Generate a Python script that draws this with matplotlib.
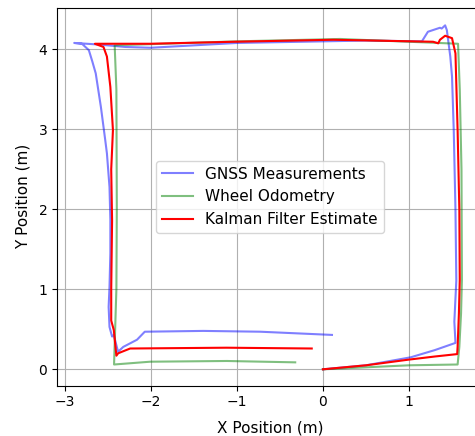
import numpy as np
import matplotlib.pyplot as plt

# GNSS measurements (x, y)
gnss_x = [0.0, 0.5, 1.02, 1.3, 1.54, 1.527, 1.55, 1.54, 1.52, 1.50, 1.48, 1.46, 1.44, 1.42,
          1.38, 1.36, 1.22, 1.15, 0.5, -1.0, -2.0, -2.3, -2.6, -2.89,
          -2.80, -2.72, -2.68, -2.64, -2.58, -2.53, -2.51, -2.48, -2.47, -2.47, -2.48, -2.49,
          -2.48, -2.45, -2.43, -2.395, -2.38, -2.32, -2.16, -2.07, -1.39, -0.73, 0.105]
gnss_y = [0.0, 0.05, 0.15, 0.24, 0.33, 0.595, 1.11, 2.0, 2.99, 3.66, 3.91, 4.075, 4.24, 4.30,
          4.26, 4.27, 4.22, 4.10, 4.11, 4.08, 4.02, 4.03, 4.06, 4.08,
          4.07, 3.99, 3.85, 3.70, 3.28, 2.87, 2.7, 2.28, 1.87, 1.45, 1.03, 0.78,
          0.53, 0.41, 0.43, 0.28, 0.22, 0.28, 0.37, 0.47, 0.48, 0.47, 0.43]

# wheel odometry (x, y)
odom_x = [0.0, 1.0, 1.565, 1.585, 1.605, 1.615, 1.61, 1.59, 1.57, 0.2, -1.0, -2.42,
          -2.40, -2.395, -2.40, -2.427, -2.008, -1.116, -0.322]
odom_y = [0.0, 0.05, 0.06, 0.28, 0.70, 1.12, 2.5, 3.5, 4.07, 4.13, 4.10, 4.05,
          3.5, 2.0, 1.0, 0.06, 0.095, 0.104, 0.087]

# kalman filter estimate (x, y)
kf_x = [0.0, 0.5, 0.99, 1.3, 1.56, 1.565, 1.58, 1.59, 1.585, 1.565, 1.54, 1.50, 1.42,
        1.36, 1.34, 1.28, 0.12, -1.04, -2.0, -2.65, -2.55, -2.51, -2.47, -2.44,
        -2.46, -2.45, -2.46, -2.46, -2.43, -2.40, -2.38, -2.24, -1.12, -0.13]
kf_y = [0.0, 0.05, 0.12, 0.16, 0.19, 0.28, 0.70, 1.12, 2.0, 2.99, 3.95, 4.14, 4.17,
        4.12, 4.075, 4.095, 4.12, 4.095, 4.07, 4.07, 4.03, 3.91, 3.53, 2.99,
        2.5, 1.86, 1.0, 0.61, 0.49, 0.17, 0.2, 0.26, 0.27, 0.26]

fig = plt.figure(figsize=(4.75, 4.36), dpi=100)
# axes runs off the right edge, like the cropped original
ax = fig.add_axes([57/475, (436-385.7)/436, (483-57)/475, (385.7-8)/436])

ax.plot(gnss_x, gnss_y, color='blue', alpha=0.5, label='GNSS Measurements')
ax.plot(odom_x, odom_y, color='green', alpha=0.5, label='Wheel Odometry')
ax.plot(kf_x, kf_y, color='red', label='Kalman Filter Estimate')

ax.set_xlim(-3.09, 1.86)
ax.set_ylim(-0.205, 4.517)
ax.set_xlabel('X Position (m)', fontsize=11, labelpad=8)
ax.set_ylabel('Y Position (m)', fontsize=11, labelpad=6)
ax.grid(True)
ax.legend(loc='center', fontsize=11)

fig.savefig('out.png', dpi=100)
